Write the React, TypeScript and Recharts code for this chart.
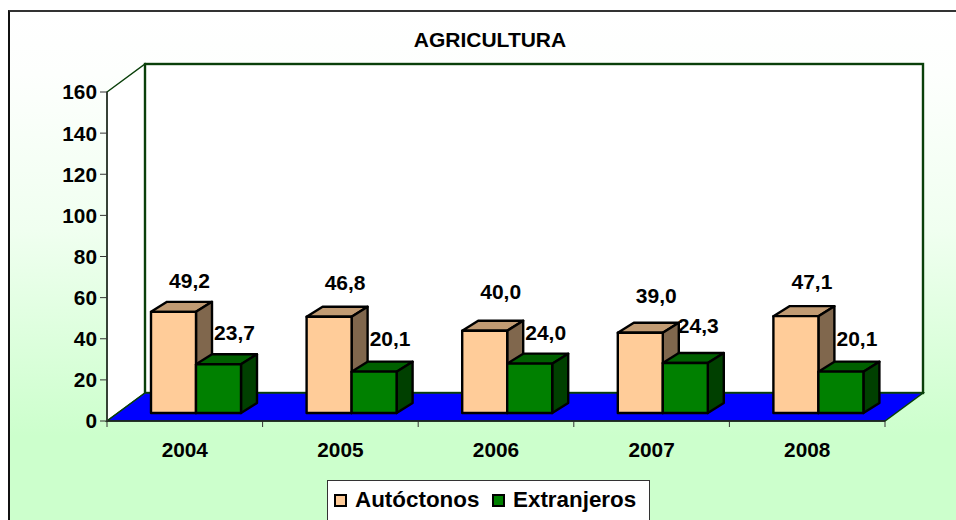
import { BarChart, Bar, XAxis, YAxis, Legend, LabelList, usePlotArea } from 'recharts'

const years = ['2004', '2005', '2006', '2007', '2008']
const autoctonos = [49.2, 46.8, 40.0, 39.0, 47.1]
const extranjeros = [23.7, 20.1, 24.0, 24.3, 20.1]
const yTicks = [0, 20, 40, 60, 80, 100, 120, 140, 160]

// how far each value label sits above its bar, as in the reference
const autoctonosLift = [31, 34, 39, 37, 34]
const extranjerosLift = [31, 33, 31, 37, 33]
const extranjerosNudge = [0, 0, 0, -3, 0]

const chartData = years.map((year, i) => ({
  year,
  Autoctonos: autoctonos[i],
  Extranjeros: extranjeros[i],
}))

const FONT = '"Liberation Sans", Arial, sans-serif'
const FLOOR_DX = 38
const FLOOR_DY = 28
const BAR_SHIFT_X = 11
const BAR_SHIFT_Y = 8
const BAR_DX = 16
const BAR_DY = 10
const WALL_LINE = '#0a400a'

const shades: Record<string, { top: string; side: string }> = {
  '#FFCC99': { top: '#C19B73', side: '#80674D' },
  '#008000': { top: '#006000', side: '#004000' },
}

function Backdrop() {
  const plot = usePlotArea()
  if (!plot) return null
  const { x, y, width, height } = plot
  const bottom = y + height
  const right = x + width
  const step = width / years.length
  return (
    <g>
      <polygon
        points={`${x},${y} ${x + FLOOR_DX},${y - FLOOR_DY} ${x + FLOOR_DX},${bottom - FLOOR_DY} ${x},${bottom}`}
        fill="#fff"
        stroke={WALL_LINE}
        strokeWidth={1.5}
      />
      <rect
        x={x + FLOOR_DX}
        y={y - FLOOR_DY}
        width={width}
        height={height}
        fill="#fff"
        stroke={WALL_LINE}
        strokeWidth={2.4}
      />
      <polygon
        points={`${x},${bottom} ${right},${bottom} ${right + FLOOR_DX},${bottom - FLOOR_DY} ${x + FLOOR_DX},${bottom - FLOOR_DY}`}
        fill="#0000FF"
        stroke={WALL_LINE}
        strokeWidth={1.5}
      />
      {[0, 1, 2, 3, 4, 5].map((i) => (
        <line
          key={i}
          x1={x + i * step}
          x2={x + i * step}
          y1={bottom}
          y2={bottom + 6}
          stroke="#333"
          strokeWidth={1}
        />
      ))}
      <text
        x={x + width / 2 - 6}
        y={47}
        textAnchor="middle"
        fontFamily={FONT}
        fontWeight="bold"
        fontSize={21}
        fill="#000"
      >
        AGRICULTURA
      </text>
    </g>
  )
}

function Box3D(props: any) {
  const { x, y, width, height, fill } = props
  const left = x + BAR_SHIFT_X
  const top = y - BAR_SHIFT_Y
  const right = left + width
  const bottom = top + height
  const shade = shades[fill]
  return (
    <g stroke="#000" strokeWidth={2.4} strokeLinejoin="round">
      <polygon
        points={`${left},${top} ${left + BAR_DX},${top - BAR_DY} ${right + BAR_DX},${top - BAR_DY} ${right},${top}`}
        fill={shade.top}
      />
      <polygon
        points={`${right},${top} ${right + BAR_DX},${top - BAR_DY} ${right + BAR_DX},${bottom - BAR_DY} ${right},${bottom}`}
        fill={shade.side}
      />
      <rect x={left} y={top} width={width} height={height} fill={fill} />
    </g>
  )
}

function valueLabel(lift: number[], nudge?: number[]) {
  return (props: any) => {
    const box = props.viewBox ?? props
    const i = props.index ?? 0
    const cx = box.x + box.width / 2 + BAR_SHIFT_X + BAR_DX + (nudge ? nudge[i] : 0)
    const cy = box.y - BAR_SHIFT_Y - lift[i]
    return (
      <text
        x={cx}
        y={cy + 7}
        textAnchor="middle"
        fontFamily={FONT}
        fontWeight="bold"
        fontSize={21}
        fill="#000"
      >
        {Number(props.value).toFixed(1).replace('.', ',')}
      </text>
    )
  }
}

function LegendBox({ payload }: any) {
  return (
    <div
      style={{
        boxSizing: 'border-box',
        width: 323,
        height: 60,
        background: '#fff',
        border: '1px solid #333',
        fontFamily: FONT,
        fontWeight: 'bold',
        fontSize: 22.4,
        color: '#000',
        position: 'relative',
      }}
    >
      {(payload ?? []).map((item: any, i: number) => (
        <div key={item.value} style={{ position: 'absolute', left: i === 0 ? 6 : 164, top: 6, display: 'flex', alignItems: 'center', height: 26 }}>
          <span
            style={{
              display: 'inline-block',
              boxSizing: 'border-box',
              width: 13,
              height: 13,
              background: item.color,
              border: '2px solid #000',
              marginRight: 8,
            }}
          />
          {item.value}
        </div>
      ))}
    </div>
  )
}

const tickStyle = { fontFamily: FONT, fontWeight: 'bold', fontSize: 20.8, fill: '#000' }

export default function App() {
  return (
    <div style={{ position: 'fixed', left: 0, top: 0, width: 956, height: 520, overflow: 'hidden', background: '#fff' }}>
      <div
        style={{
          position: 'absolute',
          left: 8,
          top: 10,
          width: 960,
          height: 520,
          boxSizing: 'border-box',
          borderTop: '2px solid #333',
          borderLeft: '2px solid #111',
          background: 'linear-gradient(180deg, #ffffff 0%, #fdfffd 12%, #f0fff0 42%, #deffde 62%, #ccffcc 82%)',
        }}
      />
      <div style={{ position: 'absolute', left: 0, top: 0 }}>
        <BarChart
          width={956}
          height={520}
          data={chartData}
          barSize={45}
          barGap={0}
          margin={{ top: 92, right: 71, bottom: 69, left: 47 }}
        >
          <Backdrop />
          <XAxis
            dataKey="year"
            height={30}
            axisLine={{ stroke: '#222', strokeWidth: 1.5 }}
            tickLine={false}
            tick={tickStyle}
            tickMargin={15}
            interval={0}
          />
          <YAxis
            width={60}
            domain={[0, 160]}
            ticks={yTicks}
            allowDataOverflow
            axisLine={{ stroke: '#333', strokeWidth: 1.5 }}
            tickLine={{ stroke: '#333' }}
            tickSize={7}
            tickMargin={3}
            tick={tickStyle}
          />
          <Legend
            layout="horizontal"
            verticalAlign="middle"
            align="center"
            content={<LegendBox />}
            wrapperStyle={{ left: 327, top: 480, width: 323, height: 60 }}
          />
          <Bar dataKey="Autoctonos" name="Autóctonos" fill="#FFCC99" shape={<Box3D />} isAnimationActive={false}>
            <LabelList dataKey="Autoctonos" content={valueLabel(autoctonosLift)} />
          </Bar>
          <Bar dataKey="Extranjeros" name="Extranjeros" fill="#008000" shape={<Box3D />} isAnimationActive={false}>
            <LabelList dataKey="Extranjeros" content={valueLabel(extranjerosLift, extranjerosNudge)} />
          </Bar>
        </BarChart>
      </div>
    </div>
  )
}
